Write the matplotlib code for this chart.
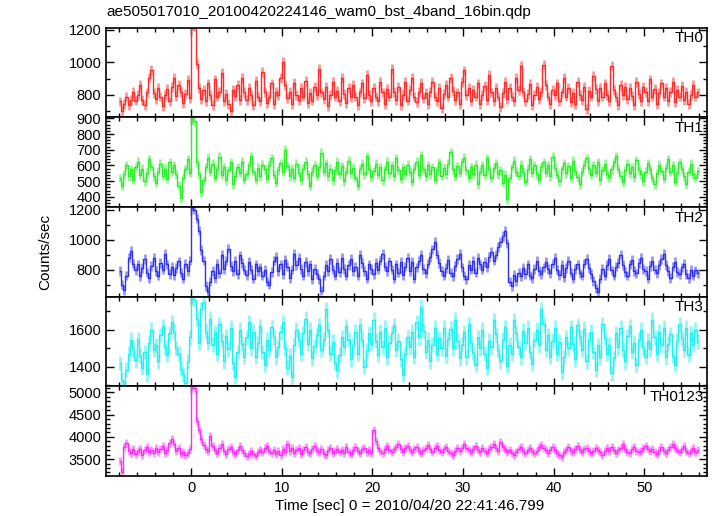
import numpy as np
import matplotlib
matplotlib.use("Agg")
import matplotlib.pyplot as plt
from matplotlib.ticker import MultipleLocator

plt.rcParams['font.family'] = ['Liberation Sans', 'DejaVu Sans']

# bin width 0.25 s, first bin starts at -8 s
t_start = -8.0
bin_w = 0.25

th0 = [
    760, 700, 745, 790, 735, 770, 820, 765,
    800, 860, 770, 740, 815, 905, 955, 810,
    775, 845, 790, 730, 800, 835, 760, 850,
    905, 795, 860, 820, 750, 805, 890, 780,
    1230, 1225, 990, 840, 775, 830, 760, 870,
    800, 740, 895, 790, 820, 935, 760, 805,
    745, 700, 830, 795, 860, 770, 905, 820,
    770, 845, 800, 735, 885, 790, 760, 940,
    815, 750, 790, 870, 745, 820, 800, 905,
    1000, 860, 780, 820, 745, 875, 800, 770,
    840, 790, 885, 750, 810, 765, 850, 800,
    960, 815, 775, 850, 730, 800, 880, 790,
    825, 760, 905, 805, 750, 840, 785, 860,
    790, 735, 815, 870, 780, 920, 800, 760,
    845, 790, 760, 880, 815, 745, 835, 790,
    960, 820, 770, 850, 735, 800, 880, 765,
    830, 905, 790, 755, 820, 875, 780, 810,
    745, 820, 880, 790, 760, 840, 720, 805,
    860, 790, 905, 825, 770, 815, 745, 880,
    950, 800, 845, 760, 830, 790, 870, 745,
    800, 855, 770, 920, 815, 760, 840, 790,
    725, 810, 880, 775, 845, 790, 760, 905,
    830, 980, 820, 760, 805, 865, 740, 800,
    850, 775, 820, 985, 860, 790, 745, 830,
    800, 870, 760, 815, 905, 790, 840, 755,
    810, 745, 880, 800, 770, 850, 715, 825,
    790, 915, 835, 760, 845, 790, 870, 800,
    760, 980, 830, 785, 740, 860, 800, 850,
    775, 840, 795, 735, 880, 805, 760, 850,
    820, 760, 895, 790, 835, 745, 810, 870,
    790, 845, 760, 820, 880, 755, 830, 790,
    855, 770, 820, 745, 800, 860, 790, 815,
]

th1 = [
    520, 470, 545, 600, 530, 575, 510, 590,
    625, 540, 580, 500, 555, 640, 590, 530,
    490, 560, 610, 535, 580, 515, 620, 560,
    600, 545, 470, 390, 520, 575, 640, 555,
    900, 880, 620, 545, 430, 505, 590, 650,
    560, 610, 520, 575, 655, 540, 590, 505,
    570, 620, 480, 535, 590, 555, 625, 510,
    545, 600, 660, 560, 510, 585, 530, 605,
    575, 515, 600, 645, 540, 490, 570, 615,
    560, 700, 595, 530, 580, 520, 610, 555,
    505, 580, 625, 545, 470, 560, 600, 535,
    590, 680, 560, 615, 530, 580, 505, 570,
    625, 545, 595, 500, 560, 630, 550, 585,
    520, 470, 575, 610, 545, 660, 580, 525,
    565, 610, 540, 590, 505, 575, 625, 550,
    600, 530, 645, 570, 515, 590, 545, 605,
    560, 495, 580, 625, 540, 665, 575, 530,
    600, 545, 590, 510, 570, 620, 535, 585,
    545, 610, 685, 575, 530, 595, 555, 620,
    650, 570, 520, 590, 545, 605, 480, 560,
    600, 540, 645, 575, 520, 585, 615, 545,
    570, 490, 540, 385, 520, 590, 630, 560,
    535, 605, 560, 495, 580, 640, 555, 600,
    545, 510, 590, 620, 555, 600, 530, 655,
    585, 540, 500, 575, 615, 550, 595, 520,
    630, 565, 525, 480, 560, 605, 645, 575,
    540, 600, 555, 620, 505, 570, 610, 545,
    525, 575, 620, 660, 580, 535, 495, 570,
    610, 550, 590, 525, 635, 570, 545, 500,
    560, 615, 575, 520, 480, 550, 605, 565,
    515, 585, 640, 560, 600, 495, 555, 620,
    575, 530, 480, 560, 610, 545, 520, 565,
]

th2 = [
    790, 700, 665, 760, 880, 925, 840, 795,
    835, 755, 810, 870, 780, 745, 825, 880,
    790, 760, 845, 800, 905, 835, 770, 820,
    765, 810, 855, 780, 740, 840, 790, 860,
    1220, 1200, 1140, 1060, 930, 860, 690, 650,
    720, 790, 745, 840, 775, 900, 805, 860,
    940, 825, 790, 860, 770, 895, 845, 800,
    765, 850, 800, 740, 835, 790, 815, 760,
    800, 720, 700, 785, 860, 885, 790, 835,
    770, 865, 820, 745, 800, 905, 830, 880,
    805, 760, 850, 790, 835, 735, 805, 770,
    735, 660, 760, 830, 790, 870, 800, 760,
    845, 785, 880, 805, 760, 830, 870, 790,
    820, 760, 900, 845, 790, 740, 835, 805,
    770, 845, 800, 860, 905, 820, 790, 855,
    800, 740, 835, 780, 850, 765, 820, 880,
    790, 850, 740, 815, 860, 900, 805, 775,
    840, 885, 935, 985, 900, 845, 790, 760,
    810, 865, 780, 755, 825, 870, 905, 815,
    760, 735, 830, 800, 860, 780, 880, 835,
    800, 850, 815, 885, 920, 860, 900, 950,
    985, 1025, 1060, 975, 720, 690, 765, 725,
    780, 755, 810, 770, 835, 760, 745, 805,
    860, 790, 770, 815, 850, 805, 775, 840,
    880, 800, 765, 830, 750, 810, 860, 780,
    740, 805, 835, 775, 760, 840, 870, 810,
    770, 725, 675, 650, 740, 805, 760, 830,
    870, 795, 760, 820, 845, 900, 830, 785,
    760, 835, 865, 790, 775, 845, 880, 805,
    790, 740, 825, 860, 800, 775, 830, 870,
    905, 830, 790, 745, 820, 850, 785, 770,
    815, 840, 770, 745, 800, 760, 795, 775,
]

th3 = [
    1420, 1330, 1290, 1385, 1470, 1545, 1495, 1435,
    1550, 1460, 1395, 1480, 1360, 1530, 1600, 1490,
    1515, 1430, 1570, 1620, 1505, 1465, 1580, 1640,
    1590, 1500, 1470, 1390, 1360, 1310, 1430, 1560,
    1780, 1760, 1660, 1530, 1710, 1750, 1590, 1530,
    1660, 1520, 1585, 1470, 1630, 1540, 1430, 1565,
    1495, 1610, 1420, 1345, 1480, 1600, 1525, 1455,
    1560, 1640, 1500, 1590, 1455, 1530, 1620, 1480,
    1410, 1545, 1490, 1615, 1560, 1450, 1505, 1585,
    1640, 1500, 1395, 1460, 1345, 1520, 1600, 1545,
    1470, 1580, 1660, 1525, 1600, 1445, 1510, 1570,
    1625, 1490, 1550, 1710, 1600, 1470, 1535, 1420,
    1380, 1465, 1560, 1505, 1620, 1545, 1440, 1515,
    1590, 1470, 1625, 1545, 1400, 1490, 1580, 1525,
    1655, 1540, 1465, 1590, 1505, 1610, 1450, 1530,
    1580, 1625, 1490, 1540, 1440, 1355, 1470, 1560,
    1505, 1590, 1455, 1640, 1560, 1725, 1595, 1480,
    1545, 1430, 1520, 1610, 1470, 1555, 1500, 1610,
    1460, 1550, 1605, 1500, 1655, 1540, 1445, 1520,
    1585, 1450, 1630, 1530, 1475, 1410, 1560, 1500,
    1600, 1470, 1395, 1540, 1505, 1650, 1575, 1490,
    1430, 1545, 1615, 1405, 1520, 1470, 1650, 1580,
    1505, 1450, 1595, 1530, 1610, 1480, 1415, 1545,
    1600, 1515, 1710, 1630, 1490, 1570, 1455, 1540,
    1610, 1470, 1535, 1370, 1450, 1560, 1500, 1615,
    1525, 1440, 1625, 1560, 1490, 1605, 1430, 1545,
    1590, 1480, 1385, 1515, 1450, 1630, 1555, 1470,
    1520, 1365, 1445, 1580, 1505, 1610, 1490, 1430,
    1565, 1620, 1480, 1530, 1410, 1545, 1600, 1505,
    1455, 1540, 1495, 1655, 1560, 1470, 1590, 1515,
    1610, 1450, 1525, 1575, 1460, 1410, 1540, 1630,
    1555, 1490, 1610, 1465, 1580, 1520, 1600, 1535,
]

th0123 = [
    3450, 3200, 3780, 3860, 3690, 3640, 3720, 3610,
    3680, 3735, 3600, 3700, 3770, 3655, 3710, 3640,
    3750, 3660, 3720, 3790, 3640, 3700, 3860, 3950,
    3830, 3690, 3760, 3610, 3665, 3590, 3640, 3720,
    5150, 5100, 4350, 4150, 3960, 3810, 3730, 3690,
    4020, 3790, 3700, 3640, 3760, 3830, 3690, 3620,
    3720, 3770, 3655, 3610, 3710, 3790, 3700, 3645,
    3570, 3620, 3690, 3610, 3560, 3650, 3710, 3670,
    3740, 3790, 3680, 3640, 3705, 3620, 3680, 3600,
    3720, 3650, 3830, 3690, 3760, 3640, 3700, 3750,
    3610, 3700, 3770, 3660, 3630, 3720, 3795, 3690,
    3650, 3735, 3620, 3590, 3700, 3760, 3640, 3690,
    3730, 3660, 3710, 3640, 3770, 3650, 3610, 3700,
    3780, 3690, 3630, 3720, 3750, 3660, 3700, 3640,
    4150, 3910, 3760, 3690, 3640, 3720, 3790, 3700,
    3650, 3720, 3770, 3830, 3720, 3660, 3740, 3790,
    3700, 3650, 3720, 3780, 3680, 3630, 3700, 3750,
    3810, 3720, 3670, 3740, 3790, 3700, 3650, 3720,
    3770, 3680, 3630, 3600, 3690, 3760, 3690, 3750,
    3830, 3740, 3700, 3650, 3730, 3790, 3700, 3670,
    3750, 3690, 3640, 3720, 3770, 3830, 3740, 3690,
    3880, 3770, 3730, 3650, 3710, 3630, 3600, 3670,
    3720, 3770, 3680, 3640, 3700, 3750, 3690, 3630,
    3690, 3780, 3820, 3740, 3710, 3630, 3700, 3770,
    3710, 3640, 3600, 3550, 3650, 3700, 3770, 3690,
    3650, 3730, 3790, 3700, 3660, 3720, 3760, 3690,
    3630, 3690, 3750, 3700, 3650, 3590, 3690, 3740,
    3690, 3770, 3700, 3630, 3710, 3760, 3830, 3730,
    3670, 3630, 3720, 3770, 3690, 3650, 3690, 3750,
    3800, 3730, 3690, 3720, 3650, 3610, 3710, 3770,
    3690, 3640, 3710, 3770, 3840, 3750, 3700, 3650,
    3730, 3790, 3690, 3640, 3690, 3750, 3650, 3710,
]

names = ['TH0', 'TH1', 'TH2', 'TH3', 'TH0123']
series = [th0, th1, th2, th3, th0123]
errs = [30, 28, 32, 40, 90]   # typical error bar half-length (counts/sec)
colors = ['#ff2a2a', '#2aee2a', '#3030f0', '#22f0f0', '#ff2aff']
ylims = [(661, 1212), (335, 905), (619, 1216), (1294, 1778), (3119, 5135)]
major = [200, 100, 200, 200, 500]
minor = [100, 20, 100, 100, 100]

fig, axes = plt.subplots(5, 1, sharex=True, figsize=(7.17, 5.16), dpi=100)
fig.subplots_adjust(left=0.148, right=0.986, top=0.946, bottom=0.0775, hspace=0)

for ax, name, y, e, c, yl, mj, mn in zip(axes, names, series, errs, colors, ylims, major, minor):
    y = np.array(y, dtype=float)
    t = t_start + bin_w * (np.arange(len(y)) + 0.5)
    # error bars (lighter), then the histogram-like line
    ax.errorbar(t, y, yerr=e, fmt='none', ecolor=c, alpha=0.5, elinewidth=2.0)
    ax.step(t, y, where='mid', color=c, lw=1.0)
    ax.set_ylim(*yl)
    ax.yaxis.set_major_locator(MultipleLocator(mj))
    ax.yaxis.set_minor_locator(MultipleLocator(mn))
    ax.xaxis.set_major_locator(MultipleLocator(10))
    ax.xaxis.set_minor_locator(MultipleLocator(2))
    ax.tick_params(which='both', direction='in', top=True, right=True, labelsize=10.5, width=1.0)
    ax.tick_params(which='major', length=6)
    ax.tick_params(which='minor', length=3)
    for s in ax.spines.values():
        s.set_linewidth(1.2)
    ax.text(0.995, 0.96, name, transform=ax.transAxes, ha='right', va='top', fontsize=11)

axes[-1].set_xlim(-9.37, 56.9)

fig.text(0.149, 0.977, 'ae505017010_20100420224146_wam0_bst_4band_16bin.qdp', ha='left', va='center', fontsize=11)
fig.text(0.063, 0.512, 'Counts/sec', rotation=90, ha='center', va='center', fontsize=11)
fig.text(0.572, 0.02, 'Time [sec] 0 = 2010/04/20 22:41:46.799', ha='center', va='center', fontsize=11)

fig.savefig('out.png', dpi=100)
